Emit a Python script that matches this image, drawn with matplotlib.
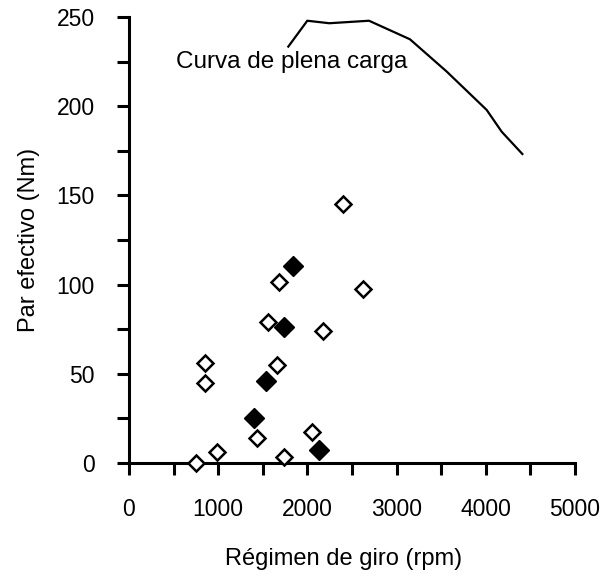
import matplotlib.pyplot as plt
from matplotlib.ticker import MultipleLocator

plt.rcParams['font.family'] = ['Liberation Sans', 'DejaVu Sans']

# Curva de plena carga (rpm, Nm)
curva_rpm = [1786, 1999, 2246, 2691, 3150, 3562, 4010, 4178, 4410]
curva_par = [233.4, 247.9, 246.5, 247.9, 237.5, 219.4, 197.9, 185.7, 173.2]

# Puntos de funcionamiento (rombos huecos)
huecos_rpm = [856, 856, 747, 983, 1431, 1682, 1554, 1663, 2179, 1738, 2048, 2396, 2620]
huecos_par = [55.9, 44.7, 0.0, 6.3, 13.8, 101.3, 79.2, 54.9, 74.0, 3.5, 17.5, 145.0, 97.4]

# Puntos de funcionamiento (rombos rellenos)
llenos_rpm = [1842, 1738, 1532, 1401, 2130]
llenos_par = [110.4, 76.4, 46.0, 25.0, 7.3]

fig = plt.figure(figsize=(6.05, 5.76), dpi=100)
ax = fig.add_axes([0.2132, 0.1962, 0.7372, 0.7743])

ax.plot(curva_rpm, curva_par, color='black', linewidth=1.6, clip_on=False)
ax.plot(huecos_rpm, huecos_par, linestyle='none', marker='D', markersize=8.5,
        markerfacecolor='white', markeredgecolor='black', markeredgewidth=1.8,
        clip_on=False, zorder=3)
ax.plot(llenos_rpm, llenos_par, linestyle='none', marker='D', markersize=10,
        markerfacecolor='black', markeredgecolor='black',
        clip_on=False, zorder=3)

ax.text(527, 224.8, 'Curva de plena carga', fontsize=17.5, va='center', ha='left')

ax.set_xlim(0, 5000)
ax.set_ylim(0, 250)
ax.xaxis.set_major_locator(MultipleLocator(1000))
ax.xaxis.set_minor_locator(MultipleLocator(500))
ax.yaxis.set_major_locator(MultipleLocator(50))
ax.yaxis.set_minor_locator(MultipleLocator(25))

for lado in ['top', 'right']:
    ax.spines[lado].set_visible(False)
for lado in ['left', 'bottom']:
    ax.spines[lado].set_linewidth(2.2)

ax.tick_params(which='both', direction='out', length=8.5, width=2.2)
ax.tick_params(axis='x', which='major', labelsize=16.5, pad=17)
ax.tick_params(axis='y', which='major', labelsize=16.5, pad=16)

ax.set_xlabel('Régimen de giro (rpm)', fontsize=17)
ax.xaxis.set_label_coords(0.481, -0.19)
ax.set_ylabel('Par efectivo (Nm)', fontsize=17, labelpad=12)

fig.savefig('out.png', dpi=100)
